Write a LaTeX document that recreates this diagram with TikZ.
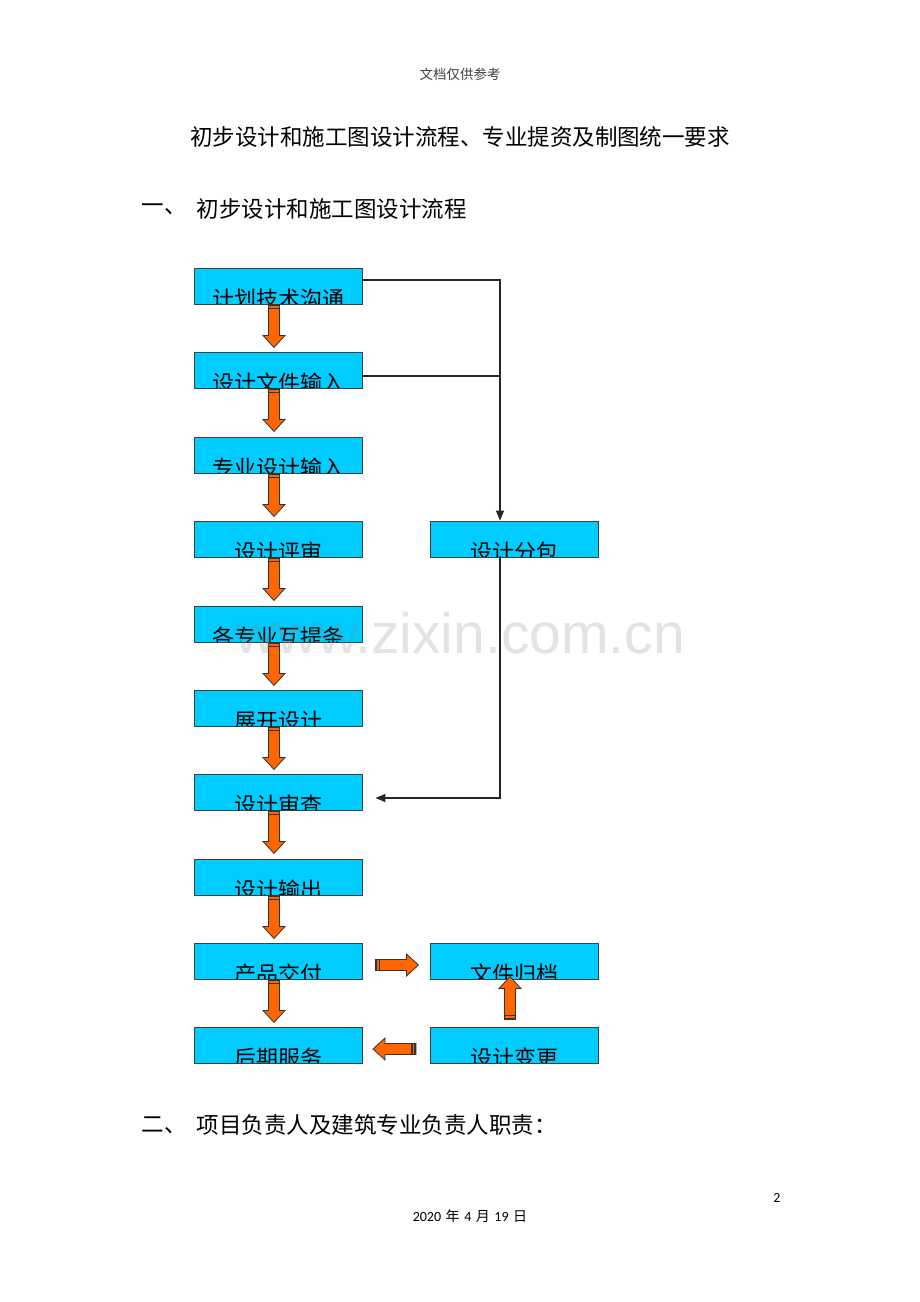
\documentclass[tikz,border=0pt]{standalone}
\usepackage{fontspec}
\newfontfamily\cjk{Noto Sans CJK SC}
\newfontfamily\carl{Carlito}
\newfontfamily\wm{Liberation Sans}
\usetikzlibrary{arrows.meta,calc}
\definecolor{boxcyan}{RGB}{0,204,255}
\definecolor{barrowfill}{RGB}{255,102,0}
\tikzset{
  box/.style={draw=black!75, line width=0.9pt, fill=boxcyan, minimum width=168pt, minimum height=36pt, inner sep=0pt,
    path picture={\node[font=\cjk\fontsize{22}{22}\selectfont, inner sep=0pt] at ([yshift=-13pt]path picture bounding box.center) {#1};}},
  conn/.style={draw=black!85, line width=1.2pt},
  tip/.style={-{Triangle[length=10pt,width=8pt]}},
  barrow/.pic={
    \fill[barrowfill, draw=black!80, line width=0.8pt] (0,-5.5) -- (31,-5.5) -- (31,-11) -- (43,0) -- (31,11) -- (31,5.5) -- (0,5.5) -- cycle;
    \fill[black!80] (0,-5.5) rectangle (2,5.5);
    \fill[black!80] (3.2,-5.5) rectangle (4.6,5.5);
  }
}
\begin{document}
\begin{tikzpicture}[x=1pt,y=-1pt]
\useasboundingbox[fill=white] (0,0) rectangle (920,1302);
% header texts
\node[font=\cjk\fontsize{13.5}{14}\selectfont, text=black!75] (hdr) at (460,74) {文档仅供参考};
\node[font=\cjk\fontsize{22.5}{24}\selectfont] (title) at (460,137) {初步设计和施工图设计流程、专业提资及制图统一要求};
\node[font=\cjk\fontsize{22.5}{24}\selectfont, anchor=west] (s1n) at (138,209) {一、};
\node[font=\cjk\fontsize{22.5}{24}\selectfont, anchor=west] (s1) at (193,209) {初步设计和施工图设计流程};
\node[font=\cjk\fontsize{22.5}{24}\selectfont, anchor=west] (s2n) at (138,1125) {二、};
\node[font=\cjk\fontsize{22.5}{24}\selectfont, anchor=west] (s2) at (193,1125) {项目负责人及建筑专业负责人职责：};
\node[font=\carl\fontsize{14}{14}\selectfont] (pg) at (777,1198) {2};
\node[font=\fontsize{14}{14}\selectfont] (date) at (470,1216) {{\carl 2020} {\cjk 年} {\carl 4} {\cjk 月} {\carl 19} {\cjk 日}};
% left column
\node[box={计划技术沟通}] (n1) at (278,286) {};
\node[box={设计文件输入}] (n2) at (278,370) {};
\node[box={专业设计输入}] (n3) at (278,455) {};
\node[box={设计评审}] (n4) at (278,539) {};
\node[box={各专业互提条}] (n5) at (278,624) {};
\node[box={展开设计}] (n6) at (278,708) {};
\node[box={设计审查}] (n7) at (278,792) {};
\node[box={设计输出}] (n8) at (278,877) {};
\node[box={产品交付}] (n9) at (278,961) {};
\node[box={后期服务}] (n10) at (278,1045) {};
% right column
\node[box={设计分包}] (sub) at (514.5,539) {};
\node[box={文件归档}] (arch) at (514.5,961) {};
\node[box={设计变更}] (chg) at (514.5,1045) {};
% thin connectors
\coordinate (c1) at ([yshift=6pt]n1.east);
\coordinate (c2) at ([yshift=-6pt]n2.east);
\coordinate (c7) at ([xshift=13pt,yshift=-6pt]n7.east);
\coordinate (subin) at ([xshift=-14.5pt]sub.north);
\coordinate (subout) at ([xshift=-14.5pt]sub.south);
\draw[conn] (c2) -- (c2 -| subin);
\draw[conn, tip] (c1) -- (c1 -| subin) -- (subin);
\draw[conn, tip] (subout) -- (subout |- c7) -- (c7);
% block arrows
\foreach \a/\b in {n1/n2,n2/n3,n3/n4,n4/n5,n5/n6,n6/n7,n7/n8,n8/n9,n9/n10}{
  \pic[rotate=-90] at ([xshift=-4pt]\a.south) {barrow};
}
\pic at ([xshift=13pt,yshift=-4pt]n9.east) {barrow};
\pic[rotate=180] at ([xshift=-14pt,yshift=-4pt]chg.west) {barrow};
\pic[rotate=90] at ([xshift=-4.5pt,yshift=7pt]chg.north) {barrow};
% watermark
\node[font=\wm\fontsize{57}{57}\selectfont, text=gray, opacity=0.22] (wmk) at (460,633) {www.zixin.com.cn};
\end{tikzpicture}
\end{document}
